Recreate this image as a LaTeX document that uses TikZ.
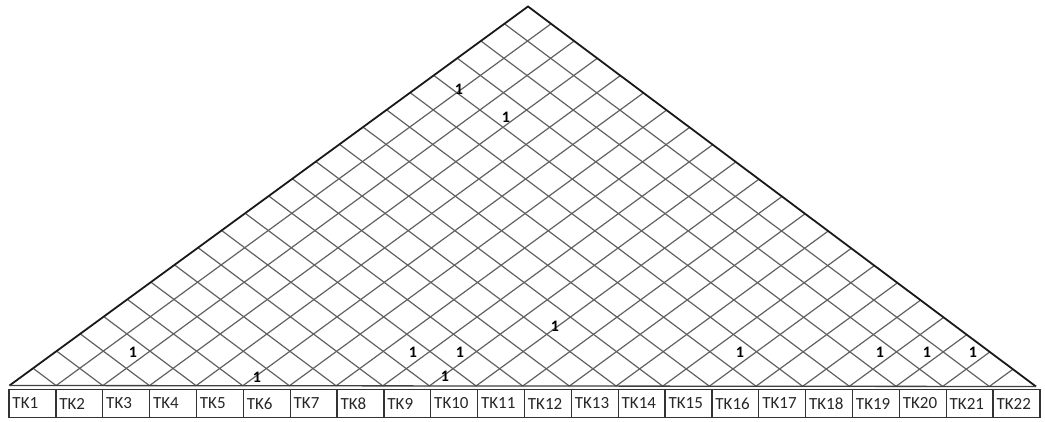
\documentclass[tikz,border=0pt]{standalone}
\usepackage{fontspec}
\setmainfont{Carlito}
\usetikzlibrary{calc}
\begin{document}
\begin{tikzpicture}[x=1pt,y=-1pt,
  edge/.style={line width=1.8pt, black!90},
  gridline/.style={line width=1.2pt, black!62},
  baseline/.style={line width=1.3pt, black!75},
  tkbox/.style={draw=black!80, line width=1.3pt, minimum height=28pt, text width=39.86pt,
    inner xsep=3.5pt, inner ysep=0pt, align=left, font=\fontsize{17}{19}\selectfont, text=black!85},
  one/.style={font=\fontsize{16}{18}\selectfont\bfseries, text=black, inner sep=0pt}]
\useasboundingbox (0,0) rectangle (1045,421);
\coordinate (A) at (9.5,385.5);
\coordinate (C) at (1036,386.5);
\coordinate (P) at (528,6.5);
\foreach \k in {1,...,21}{
  \draw[gridline] ($(A)!\k/22!(C)$) -- ($(P)!\k/22!(C)$);
  \draw[gridline] ($(A)!\k/22!(C)$) -- ($(A)!\k/22!(P)$);
}
\draw[edge] (A) -- (P) -- (C);
\draw[baseline] (A) -- (C);
\foreach \k in {1,...,22}{
  \node[tkbox] (tk\k) at ({9+(\k-0.5)*46.86}, 403.5) {TK\k};
}
\node[one] (o1) at (459,89) {1};
\node[one] (o2) at (506,117) {1};
\node[one] (o3) at (133,352) {1};
\node[one] (o4) at (257,377) {1};
\node[one] (o5) at (413,352) {1};
\node[one] (o6) at (460,352) {1};
\node[one] (o7) at (445,376) {1};
\node[one] (o8) at (555,326) {1};
\node[one] (o9) at (740,352) {1};
\node[one] (o10) at (880,352) {1};
\node[one] (o11) at (927,352) {1};
\node[one] (o12) at (973,352) {1};
\end{tikzpicture}
\end{document}
